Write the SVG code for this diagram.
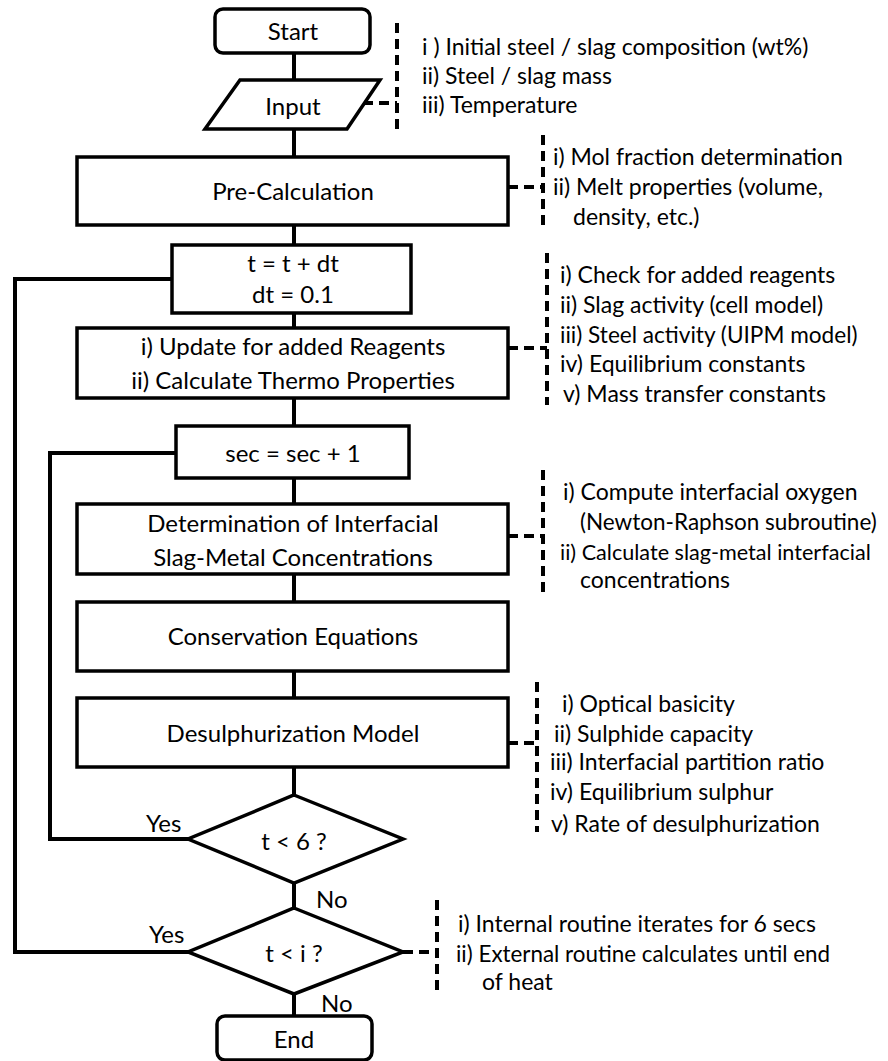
<svg xmlns="http://www.w3.org/2000/svg" width="888" height="1061" viewBox="0 0 888 1061">
<style>
.box{fill:#fff;stroke:#000;stroke-width:3.5}
.ln{fill:none;stroke:#000;stroke-width:4}
.dash{fill:none;stroke:#000;stroke-width:4;stroke-dasharray:10 6}
.t{font-family:Lato,"Liberation Sans",sans-serif;font-size:24px;fill:#000}
.c{text-anchor:middle}
.a{font-family:Lato,"Liberation Sans",sans-serif;font-size:23px;fill:#000}
</style>
<rect width="888" height="1061" fill="#fff"/>
<g id="connectors">
<path class="ln" d="M294 53V80M294 129V157M294 225V245M294 313V328M294 398V426M294 478V504M294 574V602M294 671V698M294 767V795M294 883V908M294 994V1016"/>
<path class="ln" d="M188 952H15V279H172"/>
<path class="ln" d="M188 839H50V453H176"/>
<path class="dash" d="M363 103H397M397 23V132"/>
<path class="dash" d="M508 187H543M543 135V227"/>
<path class="dash" d="M508 348H547M547 253V405"/>
<path class="dash" d="M508 536H543M543 470V592"/>
<path class="dash" d="M508 743H537M537 682V832"/>
<path class="dash" d="M403 952H437M437 900V993"/>
<text class="t" x="146" y="832">Yes</text>
<text class="t" x="149" y="943">Yes</text>
<text class="t" x="316" y="908">No</text>
<text class="t" x="321" y="1012">No</text>
</g>
<g id="start"><rect class="box" x="215" y="9" width="155" height="44" rx="8"/><text class="t c" x="293" y="40">Start</text></g>
<g id="input"><polygon class="box" points="240,80 380,80 347,129 205,129"/><text class="t c" x="293" y="115">Input</text></g>
<g id="input-notes">
<text class="a" x="422" y="55">i )  Initial steel / slag composition (wt%)</text>
<text class="a" x="422" y="84">ii)  Steel / slag mass</text>
<text class="a" x="422" y="113">iii) Temperature</text>
</g>
<g id="precalc"><rect class="box" x="77" y="157" width="431" height="68"/><text class="t c" x="293" y="200">Pre-Calculation</text></g>
<g id="precalc-notes">
<text class="a" x="553" y="165">i)  Mol fraction determination</text>
<text class="a" x="553" y="195">ii) Melt properties (volume,</text>
<text class="a" x="573" y="225">density, etc.)</text>
</g>
<g id="tstep"><rect class="box" x="172" y="245" width="239" height="68"/><text class="t c" x="293" y="272">t = t + dt</text><text class="t c" x="293" y="303">dt = 0.1</text></g>
<g id="update"><rect class="box" x="77" y="328" width="431" height="70"/><text class="t c" x="293" y="355">i) Update for added  Reagents</text><text class="t c" x="293" y="389">ii) Calculate Thermo Properties</text></g>
<g id="update-notes">
<text class="a" x="560" y="283">i)  Check for added reagents</text>
<text class="a" x="560" y="313">ii)  Slag activity  (cell model)</text>
<text class="a" x="560" y="343" style="font-size:22.6px">iii) Steel activity (UIPM model)</text>
<text class="a" x="560" y="372">iv) Equilibrium constants</text>
<text class="a" x="563" y="402">v) Mass transfer constants</text>
</g>
<g id="sec"><rect class="box" x="176" y="426" width="233" height="52"/><text class="t c" x="293" y="462">sec = sec + 1</text></g>
<g id="interf"><rect class="box" x="77" y="504" width="431" height="70"/><text class="t c" x="293" y="532">Determination of Interfacial</text><text class="t c" x="293" y="566">Slag-Metal Concentrations</text></g>
<g id="interf-notes">
<text class="a" x="563" y="500">i) Compute interfacial oxygen</text>
<text class="a" x="580" y="530" style="font-size:22.5px">(Newton-Raphson subroutine)</text>
<text class="a" x="560" y="560" style="font-size:21.6px">ii) Calculate  slag-metal interfacial</text>
<text class="a" x="580" y="588">concentrations</text>
</g>
<g id="conserv"><rect class="box" x="77" y="602" width="431" height="69"/><text class="t c" x="293" y="645">Conservation Equations</text></g>
<g id="desulph"><rect class="box" x="77" y="698" width="431" height="69"/><text class="t c" x="293" y="742">Desulphurization Model</text></g>
<g id="desulph-notes">
<text class="a" x="562" y="712">i) Optical basicity</text>
<text class="a" x="554" y="742">ii) Sulphide capacity</text>
<text class="a" x="550" y="770">iii) Interfacial partition ratio</text>
<text class="a" x="550" y="800">iv) Equilibrium sulphur</text>
<text class="a" x="551" y="832">v) Rate of desulphurization</text>
</g>
<g id="dec1"><polygon class="box" points="294,795 403,839 294,883 188,839"/><text class="t c" x="294" y="850">t &lt; 6 ?</text></g>
<g id="dec2"><polygon class="box" points="294,908 403,952 294,994 188,952"/><text class="t c" x="294" y="962">t &lt; i ?</text></g>
<g id="dec2-notes">
<text class="a" x="458" y="932">i) Internal routine iterates for 6 secs</text>
<text class="a" x="456" y="962" style="font-size:22.4px">ii) External routine calculates until end</text>
<text class="a" x="482" y="990">of heat</text>
</g>
<g id="end"><rect class="box" x="217" y="1016" width="155" height="44" rx="8"/><text class="t c" x="294" y="1048">End</text></g>
</svg>
